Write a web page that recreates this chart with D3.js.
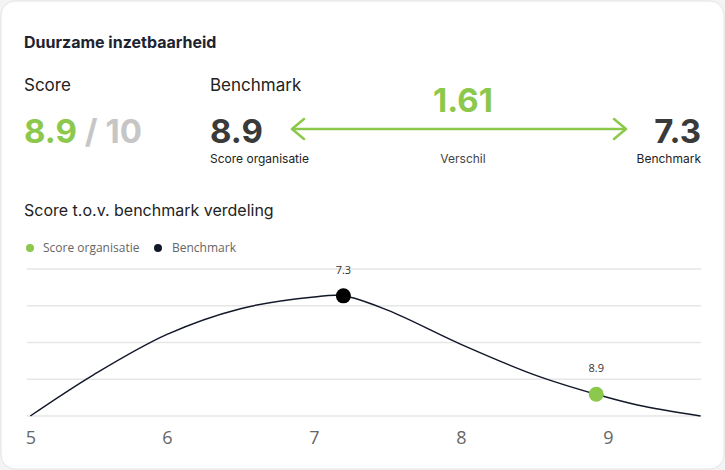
<!DOCTYPE html>
<html><head><meta charset="utf-8">
<script src="https://cdn.jsdelivr.net/npm/d3@7"></script>
<style>body{margin:0;background:#f4f4f4}</style></head>
<body><svg id="c" width="725" height="470"></svg>
<script>
const curveX = [5.07, 5.5, 6, 6.5, 7, 7.2, 7.5, 8, 8.5, 8.92, 9.2, 9.63];
const curveY = [0, 1.12, 2.22, 2.92, 3.24, 3.27, 2.88, 1.95, 1.12, 0.59, 0.3, 0];
const ticks = [5, 6, 7, 8, 9];
const gridVals = [0, 1, 2, 3, 4];
const points = [{name:"Benchmark", x:7.2, y:3.27, label:"7.3"}, {name:"Score organisatie", x:8.92, y:0.59, label:"8.9"}];
const score = "8.9", maxScore = "10", bench = "7.3", diff = "1.61";

const G = "#8cc84b", D = "#3a3a3a";
const svg = d3.select("#c");
svg.append("rect").attr("x",1).attr("y",1).attr("width",723).attr("height",468).attr("rx",14).attr("fill","#fff").attr("stroke","#e4e4e4");
const T = (x,y,t,s,c,w,a,f)=>svg.append("text").attr("x",x).attr("y",y).text(t).attr("font-size",s).attr("fill",c).attr("font-weight",w||400).attr("text-anchor",a||"start").attr("font-family",f||"Inter, sans-serif");
T(24,48,"Duurzame inzetbaarheid",16,"#1d2430",700);
T(24,91,"Score",17,"#222");
const s1=T(24,143,score,33,G,700);
const w1=s1.node().getComputedTextLength();
T(24+w1+8,143,"/ "+maxScore,33,"#c6c6c6",700);
T(210,91,"Benchmark",17,"#222");
T(210,143,score,33,D,700);
T(210,163,"Score organisatie",12,"#222");
T(463,112,diff,33,G,700,"middle");
T(463,163,"Verschil",12,"#444",400,"middle");
T(701,143,bench,33,D,700,"end");
T(701,163,"Benchmark",12,"#222",400,"end");
svg.append("line").attr("x1",293).attr("x2",625).attr("y1",129).attr("y2",129).attr("stroke",G).attr("stroke-width",2.5);
svg.append("path").attr("d","M304,119 L292,129 L304,139 M614,119 L626,129 L614,139").attr("fill","none").attr("stroke",G).attr("stroke-width",2.5).attr("stroke-linecap","round").attr("stroke-linejoin","round");
T(24,216,"Score t.o.v. benchmark verdeling",16,"#222");
svg.append("circle").attr("cx",30).attr("cy",248).attr("r",4).attr("fill",G);
T(43,252,"Score organisatie",12,"#666",400,"start","Open Sans");
svg.append("circle").attr("cx",158).attr("cy",248).attr("r",4).attr("fill","#111827");
T(172,252,"Benchmark",12,"#666",400,"start","Open Sans");

const x = d3.scaleLinear().domain([6,9]).range([167,608]);
const y = d3.scaleLinear().domain([0,4]).range([416,269]);
svg.selectAll(".g").data(gridVals).join("line").attr("x1",27).attr("x2",701).attr("y1",d=>y(d)).attr("y2",d=>y(d)).attr("stroke","#e6e6e6").attr("stroke-width",1.5);
const ax = svg.append("g").attr("transform","translate(0,416)").call(d3.axisBottom(x).tickValues(ticks).tickSize(0).tickPadding(12).tickFormat(d3.format("d")));
ax.select(".domain").remove();
ax.selectAll("text").attr("font-size",18).attr("fill","#666").attr("font-family","Open Sans").attr("dy","0.9em")
  .attr("x",d=>d===5?x(5.07)-x(5):0);
const data = curveX.map((v,i)=>[v,curveY[i]]);
svg.append("path").attr("d",d3.line().x(d=>x(d[0])).y(d=>y(d[1])).curve(d3.curveCatmullRom.alpha(0.5))(data)).attr("fill","none").attr("stroke","#111827").attr("stroke-width",1.5);
points.forEach(p=>{
  svg.append("circle").attr("cx",x(p.x)).attr("cy",y(p.y)).attr("r",7.5).attr("fill",p.name==="Benchmark"?"#000":G);
  T(x(p.x),y(p.y)-22,p.label,11,"#333",400,"middle","Open Sans");
});
</script></body></html>
